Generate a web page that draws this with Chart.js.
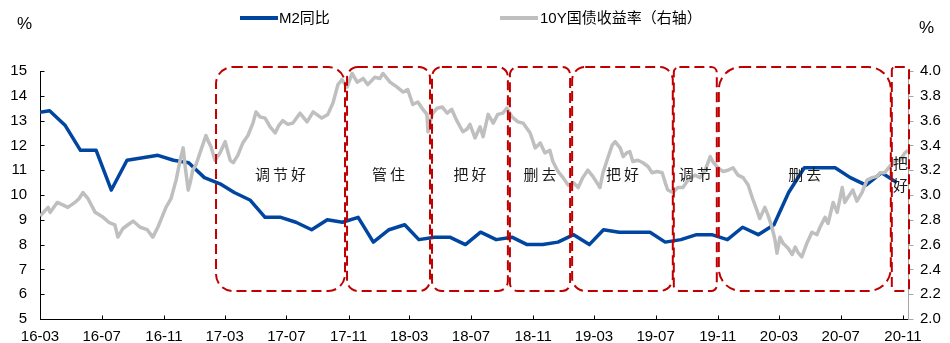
<!DOCTYPE html>
<html><head><meta charset="utf-8">
<script src="https://cdn.jsdelivr.net/npm/chart.js@4.4.0/dist/chart.umd.min.js"></script>
<style>
html,body{margin:0;padding:0;background:#fff;}
#wrap{position:relative;width:950px;height:343px;overflow:hidden;background:#fff;}
canvas{position:absolute;left:0;top:0;}
.t{position:absolute;font-family:'Liberation Sans','Noto Sans CJK SC',sans-serif;font-size:15px;color:#000;line-height:15px;white-space:nowrap;}
.pc{font-size:17px;line-height:17px;}
.sw{position:absolute;height:4px;}
</style></head><body>
<div id="wrap">
<canvas id="c" width="950" height="343"></canvas>
<div class="t pc" style="left:17px;top:15px;">%</div>
<div class="t pc" style="left:919px;top:19px;">%</div>
<div class="sw" style="left:240px;top:16px;width:38px;background:#0046A0;"></div>
<div class="t" style="left:279px;top:10px;">M2同比</div>
<div class="sw" style="left:500px;top:16px;width:38px;background:#BFBFBF;"></div>
<div class="t" style="left:540px;top:10px;">10Y国债收益率（右轴）</div>
</div>
<script>
// ---------- data ----------
const tickLabels = ['16-03','16-07','16-11','17-03','17-07','17-11','18-03','18-07','18-11','19-03','19-07','19-11','20-03','20-07','20-11'];

const m2Months = [
'2016-02','2016-03','2016-04','2016-05','2016-06','2016-07','2016-08','2016-09','2016-10','2016-11','2016-12',
'2017-01','2017-02','2017-03','2017-04','2017-05','2017-06','2017-07','2017-08','2017-09','2017-10','2017-11','2017-12',
'2018-01','2018-02','2018-03','2018-04','2018-05','2018-06','2018-07','2018-08','2018-09','2018-10','2018-11','2018-12',
'2019-01','2019-02','2019-03','2019-04','2019-05','2019-06','2019-07','2019-08','2019-09','2019-10','2019-11','2019-12',
'2020-01','2020-02','2020-03','2020-04','2020-05','2020-06','2020-07','2020-08','2020-09','2020-10'];
const m2Values = [
13.3,13.4,12.8,11.8,11.8,10.2,11.4,11.5,11.6,11.4,11.3,
10.7,10.45,10.1,9.8,9.1,9.1,8.9,8.6,9.0,8.9,9.1,8.1,
8.6,8.8,8.2,8.3,8.3,8.0,8.5,8.2,8.3,8.0,8.0,8.1,
8.4,8.0,8.6,8.5,8.5,8.5,8.1,8.2,8.4,8.4,8.2,8.7,
8.4,8.8,10.1,11.1,11.1,11.1,10.7,10.4,10.9,10.5];

const yieldDates = [
'2016-03-01','2016-03-17','2016-03-21','2016-04-04','2016-04-15','2016-04-25','2016-05-09','2016-05-17','2016-05-25','2016-06-04','2016-06-18','2016-07-04','2016-07-15','2016-07-27','2016-08-02','2016-08-12','2016-08-22','2016-09-01','2016-09-15','2016-09-29','2016-10-10','2016-10-20','2016-10-26','2016-11-05','2016-11-15','2016-11-25','2016-12-03','2016-12-09','2016-12-13','2016-12-19','2016-12-23','2016-12-28',
'2017-01-03','2017-01-13','2017-01-23','2017-01-27','2017-02-02','2017-02-10','2017-02-20','2017-03-02','2017-03-12','2017-03-18','2017-03-27','2017-04-06','2017-04-16','2017-04-26','2017-05-02','2017-05-10','2017-05-20','2017-05-30','2017-06-09','2017-06-16','2017-06-24','2017-07-04','2017-07-14','2017-07-28','2017-08-11','2017-08-23','2017-09-09','2017-09-21','2017-10-01','2017-10-11','2017-10-19','2017-10-29','2017-11-08','2017-11-18','2017-11-30','2017-12-09','2017-12-23',
'2018-01-02','2018-01-08','2018-01-22','2018-02-05','2018-02-17','2018-02-26','2018-03-08','2018-03-18','2018-03-28','2018-04-05','2018-04-07','2018-04-15','2018-04-25','2018-05-05','2018-05-15','2018-05-24','2018-06-03','2018-06-15','2018-06-23','2018-06-29','2018-07-09','2018-07-19','2018-07-25','2018-08-04','2018-08-14','2018-08-23','2018-09-02','2018-09-10','2018-09-20','2018-10-02','2018-10-12','2018-10-26','2018-11-05','2018-11-15','2018-11-24','2018-12-04','2018-12-10','2018-12-20','2018-12-30',
'2019-01-09','2019-01-19','2019-01-29','2019-02-07','2019-02-17','2019-02-27','2019-03-13','2019-03-19','2019-03-27','2019-04-06','2019-04-12','2019-04-22','2019-04-28','2019-05-05','2019-05-11','2019-05-17','2019-05-27','2019-06-06','2019-06-16','2019-06-24','2019-07-04','2019-07-14','2019-07-20','2019-07-25','2019-08-04','2019-08-14','2019-08-24','2019-09-03','2019-09-17','2019-09-27','2019-10-07','2019-10-17','2019-10-22','2019-11-01','2019-11-11','2019-11-21','2019-12-01','2019-12-11','2019-12-21','2019-12-31',
'2020-01-08','2020-01-17','2020-01-23','2020-02-02','2020-02-08','2020-02-16','2020-02-22','2020-02-26','2020-03-03','2020-03-09','2020-03-19','2020-03-27','2020-04-02','2020-04-07','2020-04-15','2020-04-25','2020-05-05','2020-05-15','2020-05-21','2020-05-31','2020-06-06','2020-06-16','2020-06-24','2020-07-04','2020-07-09','2020-07-15','2020-07-25','2020-08-02','2020-08-12','2020-08-22','2020-09-01','2020-09-11','2020-09-17','2020-09-26','2020-10-06','2020-10-16','2020-10-26','2020-11-05','2020-11-11'];
const yieldValues = [
2.83,2.90,2.86,2.94,2.92,2.90,2.94,2.97,3.02,2.97,2.86,2.82,2.78,2.76,2.66,2.73,2.76,2.79,2.74,2.72,2.66,2.74,2.80,2.90,2.97,3.12,3.28,3.38,3.23,3.04,3.10,3.20,
3.24,3.36,3.48,3.44,3.39,3.28,3.34,3.43,3.28,3.26,3.32,3.42,3.48,3.58,3.67,3.63,3.62,3.55,3.50,3.56,3.60,3.57,3.58,3.66,3.59,3.67,3.62,3.65,3.74,3.89,3.93,3.87,3.98,3.91,3.94,3.89,3.95,
3.94,3.98,3.91,3.87,3.83,3.85,3.73,3.75,3.69,3.65,3.51,3.65,3.70,3.71,3.66,3.69,3.60,3.51,3.53,3.57,3.46,3.55,3.47,3.65,3.58,3.65,3.66,3.70,3.63,3.59,3.58,3.50,3.38,3.42,3.34,3.36,3.27,3.19,3.14,
3.08,3.10,3.06,3.14,3.20,3.15,3.06,3.18,3.28,3.40,3.43,3.38,3.31,3.34,3.35,3.27,3.28,3.26,3.23,3.18,3.19,3.18,3.10,3.04,3.02,3.06,3.06,3.12,3.16,3.14,3.20,3.31,3.27,3.22,3.19,3.20,3.22,3.16,3.14,3.08,
2.98,2.88,2.81,2.90,2.84,2.74,2.64,2.53,2.66,2.61,2.57,2.52,2.58,2.54,2.50,2.61,2.70,2.68,2.74,2.82,2.77,2.94,2.86,3.06,2.94,2.98,3.04,2.95,3.02,3.12,3.14,3.15,3.18,3.18,3.23,3.28,3.28,3.34,3.36];

// policy-stance annotation boxes
const boxLabels = ['调节好','管住','把好','删去','把好','调节','删去','把好'];
const boxStarts = ['2017-02-12','2017-10-29','2018-04-15','2018-09-16','2019-01-17','2019-08-06','2019-11-03','2020-10-10'];
const boxEnds   = ['2017-10-25','2018-04-11','2018-09-12','2019-01-13','2019-08-04','2019-10-30','2020-10-08','2020-11-13'];

// ---------- helpers ----------
const ORIGIN = Date.UTC(2016, 2, 1);
function dayOf(s) {
  const p = s.split('-').map(Number);
  return (Date.UTC(p[0], p[1] - 1, p[2] || 1) - ORIGIN) / 86400000;
}
function labelDate(l) { return '20' + l.slice(0, 2) + '-' + l.slice(3) + '-01'; }

const FONT = "'Liberation Sans', Arial, sans-serif";
const BOX_TOP = 15.16, BOX_BOTTOM = 6.13, LABEL_Y = 10.85;

function roundRectPath(ctx, x, y, w, h, r) {
  ctx.beginPath();
  ctx.moveTo(x + r, y);
  ctx.lineTo(x + w - r, y);
  ctx.arcTo(x + w, y, x + w, y + r, r);
  ctx.lineTo(x + w, y + h - r);
  ctx.arcTo(x + w, y + h, x + w - r, y + h, r);
  ctx.lineTo(x + r, y + h);
  ctx.arcTo(x, y + h, x, y + h - r, r);
  ctx.lineTo(x, y + r);
  ctx.arcTo(x, y, x + r, y, r);
  ctx.closePath();
}

const overlay = {
  id: 'overlay',
  beforeDatasetsDraw(chart) {
    const { ctx, chartArea: a, scales } = chart;
    const xs = scales.x, ys = scales.y, y2 = scales.y2;
    ctx.save();
    ctx.lineWidth = 1;
    ctx.strokeStyle = '#000';
    ctx.beginPath();
    const lx = Math.round(a.left) + 0.5;
    ctx.moveTo(lx, a.top); ctx.lineTo(lx, a.bottom + 1);
    ys.ticks.forEach(t => {
      const py = Math.round(ys.getPixelForValue(t.value)) + 0.5;
      ctx.moveTo(lx, py); ctx.lineTo(lx + 4, py);
    });
    ctx.stroke();
    ctx.beginPath();
    const by = Math.round(a.bottom) + 0.5;
    ctx.moveTo(a.left, by); ctx.lineTo(a.right, by);
    xs.ticks.forEach(t => {
      const px = Math.round(xs.getPixelForValue(t.value)) + 0.5;
      ctx.moveTo(px, by); ctx.lineTo(px, by - 4);
    });
    ctx.stroke();
    ctx.strokeStyle = '#A6A6A6';
    ctx.beginPath();
    const rx = Math.round(a.right) + 0.5;
    ctx.moveTo(rx, a.top); ctx.lineTo(rx, a.bottom + 1);
    y2.ticks.forEach(t => {
      const py = Math.round(y2.getPixelForValue(t.value)) + 0.5;
      ctx.moveTo(rx, py); ctx.lineTo(rx + 5, py);
    });
    ctx.stroke();
    ctx.restore();
  },
  afterDatasetsDraw(chart) {
    const { ctx, scales } = chart;
    const xs = scales.x, ys = scales.y;
    ctx.save();
    ctx.strokeStyle = '#C00000';
    ctx.lineWidth = 2;
    ctx.setLineDash([10, 5]);
    const y0 = ys.getPixelForValue(BOX_TOP), y1 = ys.getPixelForValue(BOX_BOTTOM);
    boxStarts.forEach((s, i) => {
      const x0 = xs.getPixelForValue(dayOf(s));
      const x1 = xs.getPixelForValue(dayOf(boxEnds[i]));
      const w = x1 - x0, h = y1 - y0;
      const r = Math.max(3, 0.13 * w);
      roundRectPath(ctx, x0, y0, w, h, r);
      ctx.stroke();
    });
    ctx.setLineDash([]);
    ctx.fillStyle = '#1a1a1a';
    ctx.font = "15px 'Noto Sans CJK SC', sans-serif";
    ctx.textAlign = 'center';
    ctx.textBaseline = 'middle';
    const ly = ys.getPixelForValue(LABEL_Y);
    boxLabels.forEach((lab, i) => {
      const x0 = xs.getPixelForValue(dayOf(boxStarts[i]));
      const x1 = xs.getPixelForValue(dayOf(boxEnds[i]));
      const cx = (x0 + x1) / 2;
      const chars = Array.from(lab);
      if (x1 - x0 < 30) {
        chars.forEach((ch, k) => {
          ctx.fillText(ch, cx, ly + (k - (chars.length - 1) / 2) * 22);
        });
      } else {
        const step = 18;
        chars.forEach((ch, k) => {
          ctx.fillText(ch, cx + (k - (chars.length - 1) / 2) * step, ly);
        });
      }
    });
    ctx.restore();
  }
};

new Chart(document.getElementById('c'), {
  type: 'line',
  data: {
    datasets: [
      {
        label: '10Y国债收益率（右轴）',
        data: yieldDates.map((d, i) => ({ x: dayOf(d), y: yieldValues[i] })),
        yAxisID: 'y2',
        borderColor: '#BFBFBF',
        borderWidth: 3.5,
        pointRadius: 0,
        tension: 0,
        clip: 0,
        order: 0,
        borderJoinStyle: 'round'
      },
      {
        label: 'M2同比',
        data: m2Months.map((m, i) => ({ x: dayOf(m + '-20'), y: m2Values[i] })),
        yAxisID: 'y',
        borderColor: '#0046A0',
        borderWidth: 3.5,
        pointRadius: 0,
        tension: 0,
        clip: 0,
        order: 1,
        borderJoinStyle: 'round'
      }
    ]
  },
  options: {
    responsive: false,
    animation: false,
    devicePixelRatio: 1,
    layout: { padding: { top: 71, left: 0, right: 0, bottom: 0 } },
    plugins: { legend: { display: false }, tooltip: { enabled: false } },
    scales: {
      x: {
        type: 'linear',
        min: 0,
        max: dayOf('2020-11-11'),
        grid: { display: false, drawTicks: false },
        border: { display: false },
        afterBuildTicks: s => { s.ticks = tickLabels.map(l => ({ value: dayOf(labelDate(l)) })); },
        ticks: {
          autoSkip: false, maxRotation: 0, minRotation: 0, padding: 9, color: '#000',
          font: { family: FONT, size: 15 },
          callback: (v, i) => tickLabels[i]
        },
        afterFit: s => { s.height = 24; }
      },
      y: {
        position: 'left',
        min: 5, max: 15,
        grid: { display: false, drawTicks: false },
        border: { display: false },
        ticks: { stepSize: 1, padding: 13, color: '#000', font: { family: FONT, size: 15 } },
        afterFit: s => { s.width = 40; }
      },
      y2: {
        position: 'right',
        min: 2, max: 4,
        grid: { display: false, drawTicks: false },
        border: { display: false },
        ticks: { stepSize: 0.2, padding: 12, color: '#000', font: { family: FONT, size: 15 }, callback: v => v.toFixed(1) },
        afterFit: s => { s.width = 42; }
      }
    }
  },
  plugins: [overlay]
});
</script>
</body></html>
